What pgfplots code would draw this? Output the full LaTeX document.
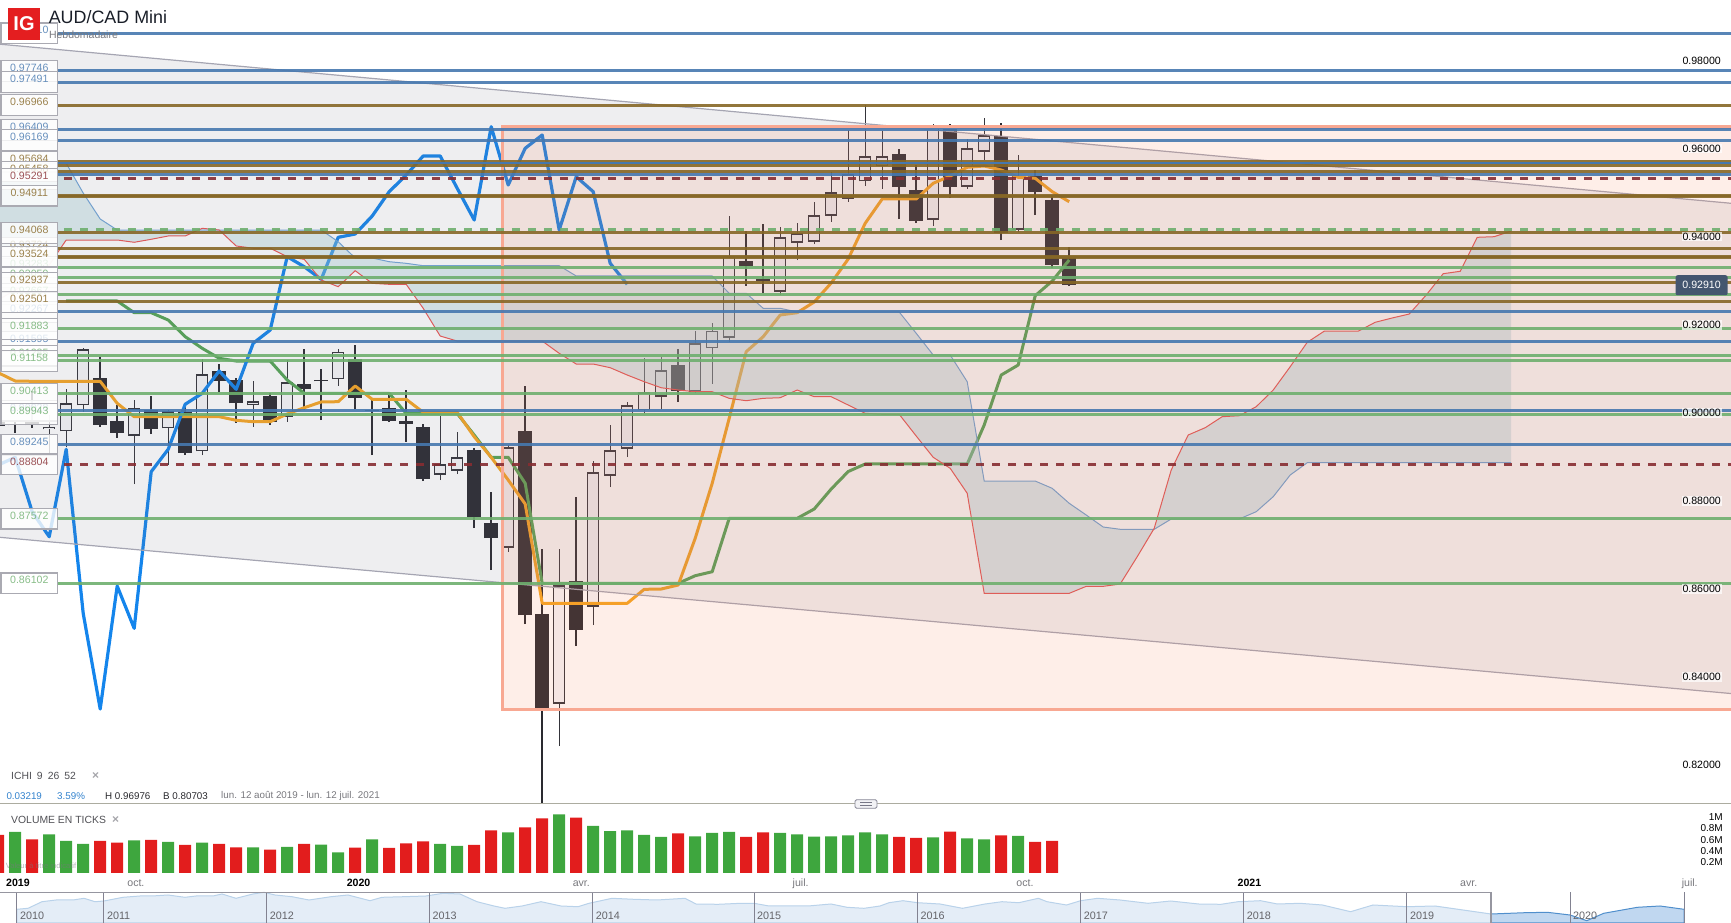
\documentclass[border=0pt]{standalone}
\usepackage{fontspec}
\setmainfont{Liberation Sans}
\usepackage{pgfplots}
\usepackage{pgfplotstable}
\pgfplotsset{compat=1.18}

\definecolor{igred}{RGB}{228,30,32}
\definecolor{hblue}{RGB}{70,120,175}
\definecolor{hbrown}{RGB}{134,103,38}
\definecolor{hgreen}{RGB}{110,175,110}
\definecolor{hred}{RGB}{135,45,50}
\definecolor{candark}{RGB}{42,42,48}
\definecolor{canlight}{RGB}{246,246,248}
\definecolor{canedge}{RGB}{52,52,58}
\definecolor{cloudc}{RGB}{158,196,204}
\definecolor{chanfill}{RGB}{115,115,135}
\definecolor{chanedge}{RGB}{165,165,178}
\definecolor{boxfill}{RGB}{245,120,80}
\definecolor{boxedge}{RGB}{248,168,146}
\definecolor{tenkan}{RGB}{246,166,35}
\definecolor{kijun}{RGB}{85,165,85}
\definecolor{chikou}{RGB}{20,133,236}
\definecolor{senkb}{RGB}{115,160,205}
\definecolor{senka}{RGB}{220,90,90}
\definecolor{volg}{RGB}{62,166,62}
\definecolor{volr}{RGB}{226,29,29}
\definecolor{lbltxtgray}{RGB}{120,120,125}

% i, wick high, wick low, body top, body bottom
\pgfplotstableread{
i hi lo top bot
2 .89926 .89063 .89660 .89601
3 .90510 .89206 .90192 .89556
4 .91442 .90001 .91420 .90147
7 .90267 .88358 .90078 .89456
9 .90040 .88790 .90010 .89624
11 .91199 .89017 .90851 .89101
14 .90699 .89660 .90237 .90147
16 .91176 .89774 .90669 .89887
19 .91420 .90592 .91365 .90744
25 .89904 .88449 .88806 .88570
26 .89533 .88585 .88965 .88661
29 .89237 .86820 .89192 .86910
32 .86881 .82404 .86056 .83365
34 .88881 .85154 .88624 .85570
35 .89699 .88290 .89124 .88547
36 .90222 .88972 .90147 .89161
37 .91215 .89965 .90442 .90029
38 .91238 .90056 .90942 .90342
40 .91842 .90433 .91555 .90456
41 .92010 .90631 .91842 .91442
42 .94448 .91592 .93546 .91683
45 .94191 .92660 .93964 .92728
46 .94283 .93448 .94055 .93842
47 .94760 .93812 .94464 .93865
48 .95441 .94319 .94987 .94455
49 .96393 .94773 .95396 .94842
50 .96976 .95130 .95805 .95236
51 .96387 .95062 .95805 .95579
54 .96539 .94221 .96478 .94365
56 .96191 .95062 .95987 .95114
57 .96675 .95721 .96282 .95910
59 .95835 .94085 .95351 .94137
}\upcandles
\pgfplotstableread{
i hi lo top bot
-1 .89858 .89631 .89797 .89676
0 .89790 .89517 .89722 .89692
1 .90471 .89631 .89774 .89699
5 .91251 .89660 .90767 .89706
6 .90153 .89410 .89790 .89524
8 .90358 .89494 .90040 .89615
10 .90192 .89017 .89994 .89063
12 .91086 .90456 .90927 .90706
13 .90760 .89751 .90715 .90192
15 .90419 .89706 .90358 .89760
17 .91426 .90040 .90631 .90524
18 .90971 .89812 .90715 .90692
20 .91517 .90056 .91192 .90319
21 .90267 .89017 .90051 .90029
22 .90381 .89767 .90078 .89790
23 .90494 .89319 .89783 .89729
24 .89722 .88426 .89653 .88471
27 .89176 .87358 .89131 .87608
28 .88176 .86404 .87472 .87131
30 .90585 .85177 .89563 .85381
31 .86881 .80703 .85404 .83222
33 .88070 .84676 .86147 .85040
39 .91426 .90222 .91063 .90479
43 .94107 .92865 .93431 .93317
44 .94267 .92706 .93023 .92971
52 .95964 .94380 .95857 .95107
53 .95607 .94289 .95039 .94335
55 .96539 .94857 .96464 .95107
58 .96555 .93903 .96266 .94069
60 .95494 .94471 .95357 .94987
61 .94926 .93267 .94812 .93335
62 .93744 .92857 .93494 .92880
}\downcandles

\pgfplotsset{hl/.style={line width=3pt,opacity=.9,forget plot}}
\tikzset{
  lblbox/.style={draw={rgb,255:red,170;green,170;blue,178},line width=1.1pt,fill=white,fill opacity=.8,draw opacity=1,
    minimum width=56.7pt,minimum height=20.7pt,inner sep=0pt},
  lbltxt/.style={inner sep=0pt,text opacity=.82,font=\fontsize{10.6}{12}\selectfont,yshift=3pt},
}
\newcommand{\lab}[3]{\node[lblbox] at (axis cs:0.83,#2){};\node[lbltxt,text=#1] at (axis cs:0.83,#2){#3};}

\begin{document}
\begin{tikzpicture}

%% ---------- price panel
\begin{axis}[
  at={(0pt,119pt)},anchor=south west,scale only axis,width=1731pt,height=804pt,
  xmin=-0.8941,xmax=100.9294,ymin=0.81087,ymax=0.99357,
  axis on top,
  axis line style={draw=none},tick style={draw=none},
  xtick=\empty,ytick={0.82,0.84,0.86,0.88,0.90,0.92,0.94,0.96,0.98},
  yticklabel pos=right,
  y tick label style={anchor=east,xshift=-9pt,yshift=-1pt,inner sep=1pt,fill=white,fill opacity=.7,text opacity=1,
    font=\fontsize{10.6}{12}\selectfont,
    /pgf/number format/.cd,fixed,fixed zerofill,precision=5,assume math mode=true},
  clip=true]

% candle wicks and bodies
\addplot[draw=none,no markers,forget plot,error bars/.cd,y dir=plus,y explicit,error mark=none,
  error bar style={line width=1.3pt,draw=canedge}]
  table[x=i,y=lo,y error plus expr=\thisrow{hi}-\thisrow{lo}] {\upcandles};
\addplot[draw=none,no markers,forget plot,error bars/.cd,y dir=plus,y explicit,error mark=none,
  error bar style={line width=12.4pt,draw=canedge}]
  table[x=i,y=bot,y error plus expr=\thisrow{top}-\thisrow{bot}] {\upcandles};
\addplot[draw=none,no markers,forget plot,error bars/.cd,y dir=plus,y explicit,error mark=none,
  error bar style={line width=9.8pt,draw=canlight}]
  table[x=i,y expr=\thisrow{bot}+0.0003,y error plus expr=\thisrow{top}-\thisrow{bot}-0.0006] {\upcandles};
\addplot[draw=none,no markers,forget plot,error bars/.cd,y dir=plus,y explicit,error mark=none,
  error bar style={line width=2.4pt,draw=candark}]
  table[x=i,y=lo,y error plus expr=\thisrow{hi}-\thisrow{lo}] {\downcandles};
\addplot[draw=none,no markers,forget plot,error bars/.cd,y dir=plus,y explicit,error mark=none,
  error bar style={line width=14pt,draw=candark}]
  table[x=i,y=bot,y error plus expr=\thisrow{top}-\thisrow{bot}] {\downcandles};

% kijun
\addplot[kijun,line width=3pt,line join=round,forget plot] coordinates {
(3,.92517)(6,.92517)(7,.92251)(8,.92251)(9,.92085)(10,.91706)(11,.91442)(12,.91215)(13,.91153)(15,.91153)(16,.90721)(17,.90419)(22,.90419)(23,.89960)(26,.89960)(27,.89472)(28,.88965)(29,.88965)(30,.88374)(31,.86101)(39,.86101)(40,.86274)(41,.86365)(42,.87578)(46,.87578)(47,.87790)(48,.88244)(49,.88642)(50,.88813)(56,.88813)(57,.89699)(58,.90835)(59,.91062)(60,.92637)(61,.92971)(62,.93449)};
% tenkan
\addplot[tenkan,line width=3pt,line join=round,forget plot] coordinates {
(-1,.90887)(0,.90699)(1,.90692)(5,.90692)(6,.90192)(7,.89888)(12,.89888)(13,.89806)(14,.89774)(15,.89774)(16,.89949)(17,.90092)(18,.90222)(19,.90229)(20,.90585)(21,.90283)(23,.90283)(24,.89988)(26,.89988)(27,.89433)(28,.88965)(29,.88449)(30,.87904)(31,.85647)(36,.85647)(37,.85965)(38,.85972)(39,.86063)(40,.87124)(41,.88374)(42,.89851)(43,.91365)(44,.91706)(45,.92199)(46,.92251)(47,.92494)(48,.92926)(49,.93471)(50,.94283)(51,.94835)(53,.94835)(54,.95192)(55,.95357)(56,.95555)(57,.95585)(58,.95494)(59,.95328)(60,.95305)(61,.95001)(62,.94773)};
% chikou
\addplot[chikou,line width=3.2pt,line join=round,forget plot] coordinates {
(-1,.88790)(0,.88965)(1,.87728)(2,.87160)(3,.89147)(4,.85420)(5,.83245)(6,.86040)(7,.85079)(8,.88638)(9,.89147)(10,.90171)(11,.90419)(12,.90927)(13,.90510)(14,.91556)(15,.91857)(16,.93524)(17,.93296)(18,.93010)(19,.93964)(20,.94039)(21,.94448)(22,.95001)(23,.95380)(24,.95812)(25,.95812)(26,.95078)(27,.94358)(28,.96478)(29,.95153)(30,.95987)(31,.96289)(32,.94130)(33,.95341)(34,.95001)(35,.93373)(36,.92896)};

% channel
\addplot[fill=chanfill,fill opacity=.12,draw=chanedge,line width=1.2pt,forget plot] coordinates {
(-1.5,.98374)(101.5,.94717)(101.5,.83577)(-1.5,.87168)} --cycle;

% ichimoku cloud: the area between the two lines, then the lines
\addplot[fill=cloudc,fill opacity=.37,draw=none,forget plot] coordinates {
(-1,.92540)(0,.92767)(1,.92994)(2,.93335)(3,.93903)(6,.93903)(7,.93851)(8,.93919)(9,.93994)(10,.93994)(11,.94169)(12,.94130)(13,.93767)(14,.93715)(15,.93715)(16,.93524)(17,.93464)(18,.92994)(19,.92842)(20,.93205)(21,.92919)(22,.92896)(23,.92896)(24,.92351)(25,.91721)(26,.91607)(31,.91607)(32,.91328)(33,.91085)(34,.91085)(35,.91001)(36,.90835)(37,.90683)(38,.90546)(39,.90494)(40,.90456)(41,.90456)(42,.90305)(43,.90251)(44,.90305)(45,.90319)(46,.90494)(47,.90342)(48,.90342)(49,.90153)(50,.89965)(51,.89942)(52,.89942)(53,.89449)(54,.88965)(55,.88715)(56,.88147)(57,.85874)(62,.85874)(63,.86033)(64,.86033)(65,.86086)(66,.86706)(67,.87351)(68,.88676)(69,.89472)(70,.89638)(71,.89888)(72,.89910)(73,.90115)(74,.90494)(75,.91024)(76,.91578)(77,.91831)(79,.91831)(80,.92033)(81,.92131)(82,.92221)(83,.92653)(84,.93137)(85,.93192)(86,.93964)(87,.93978)(88,.94107)
(88,.88842)(76,.88842)(75,.88563)(74,.88070)(73,.87729)(72,.87563)(68,.87563)(67,.87329)(65,.87329)(64,.87381)(63,.87654)(62,.87920)(61,.88260)(60,.88426)(57,.88426)(56,.90683)(55,.91290)(54,.91290)(53,.91783)(52,.92267)(46,.92267)(45,.92351)(44,.92351)(43,.92692)(42,.92692)(41,.93085)(33,.93085)(32,.93319)(24,.93319)(23,.93373)(22,.93410)(21,.93494)(20,.93494)(19,.93864)(18,.94130)(6,.94130)(5,.94380)(4,.94971)(3,.95646)(-1,.95646)} --cycle;
\addplot[senkb,line width=1pt,forget plot] coordinates {
(-1,.95646)(3,.95646)(4,.94971)(5,.94380)(6,.94130)(18,.94130)(19,.93864)(20,.93494)(21,.93494)(22,.93410)(23,.93373)(24,.93319)(32,.93319)(33,.93085)(41,.93085)(42,.92692)(43,.92692)(44,.92351)(45,.92351)(46,.92267)(52,.92267)(53,.91783)(54,.91290)(55,.91290)(56,.90683)(57,.88426)(60,.88426)(61,.88260)(62,.87920)(63,.87654)(64,.87381)(65,.87329)(67,.87329)(68,.87563)(72,.87563)(73,.87729)(74,.88070)(75,.88563)(76,.88842)(88,.88842)};
\addplot[senka,line width=1pt,forget plot] coordinates {
(-1,.92540)(0,.92767)(1,.92994)(2,.93335)(3,.93903)(6,.93903)(7,.93851)(8,.93919)(9,.93994)(10,.93994)(11,.94169)(12,.94130)(13,.93767)(14,.93715)(15,.93715)(16,.93524)(17,.93464)(18,.92994)(19,.92842)(20,.93205)(21,.92919)(22,.92896)(23,.92896)(24,.92351)(25,.91721)(26,.91607)(31,.91607)(32,.91328)(33,.91085)(34,.91085)(35,.91001)(36,.90835)(37,.90683)(38,.90546)(39,.90494)(40,.90456)(41,.90456)(42,.90305)(43,.90251)(44,.90305)(45,.90319)(46,.90494)(47,.90342)(48,.90342)(49,.90153)(50,.89965)(51,.89942)(52,.89942)(53,.89449)(54,.88965)(55,.88715)(56,.88147)(57,.85874)(62,.85874)(63,.86033)(64,.86033)(65,.86086)(66,.86706)(67,.87351)(68,.88676)(69,.89472)(70,.89638)(71,.89888)(72,.89910)(73,.90115)(74,.90494)(75,.91024)(76,.91578)(77,.91831)(79,.91831)(80,.92033)(81,.92131)(82,.92221)(83,.92653)(84,.93137)(85,.93192)(86,.93964)(87,.93978)(88,.94107)};

% salmon box
\addplot[fill=boxfill,fill opacity=.13,draw=boxedge,line width=3.5pt,forget plot] coordinates {
(28.66,.96471)(104,.96471)(104,.83238)(28.66,.83238)} --cycle;

% horizontal levels
\addplot[hl,hblue] coordinates {(2.459,.98600)(102,.98600)};
\addplot[hl,hblue] coordinates {(2.459,.97746)(102,.97746)};
\addplot[hl,hblue] coordinates {(2.459,.97491)(102,.97491)};
\addplot[hl,hbrown] coordinates {(2.459,.96966)(102,.96966)};
\addplot[hl,hblue] coordinates {(2.459,.96409)(102,.96409)};
\addplot[hl,hblue] coordinates {(2.459,.96169)(102,.96169)};
\addplot[hl,hbrown] coordinates {(2.459,.95684)(102,.95684)};
\addplot[hl,hbrown] coordinates {(2.459,.95601)(102,.95601)};
\addplot[hblue,line width=1.2pt,forget plot] coordinates {(2.459,.95653)(102,.95653)};
\addplot[hl,hbrown] coordinates {(2.459,.95458)(102,.95458)};
\addplot[hl,hblue] coordinates {(2.459,.95399)(102,.95399)};
\addplot[hl,hbrown] coordinates {(2.459,.94925)(102,.94925)};
\addplot[hl,hbrown] coordinates {(2.459,.94895)(102,.94895)};
\addplot[hl,hbrown] coordinates {(2.459,.94068)(102,.94068)};
\addplot[hl,hbrown] coordinates {(2.459,.93715)(102,.93715)};
\addplot[hl,hbrown] coordinates {(2.459,.93535)(102,.93535)};
\addplot[hl,hbrown] coordinates {(2.459,.93515)(102,.93515)};
\addplot[hl,hgreen] coordinates {(2.459,.93283)(102,.93283)};
\addplot[hl,hgreen] coordinates {(2.459,.93056)(102,.93056)};
\addplot[hl,hbrown] coordinates {(2.459,.92937)(102,.92937)};
\addplot[hl,hgreen] coordinates {(2.459,.92670)(102,.92670)};
\addplot[hl,hbrown] coordinates {(2.459,.92501)(102,.92501)};
\addplot[hl,hblue] coordinates {(2.459,.92267)(102,.92267)};
\addplot[hl,hgreen] coordinates {(2.459,.91883)(102,.91883)};
\addplot[hl,hblue] coordinates {(2.459,.91595)(102,.91595)};
\addplot[hl,hgreen] coordinates {(2.459,.91274)(102,.91274)};
\addplot[hl,hgreen] coordinates {(2.459,.91158)(102,.91158)};
\addplot[hl,hgreen] coordinates {(2.459,.90413)(102,.90413)};
\addplot[hl,hblue] coordinates {(2.459,.90025)(102,.90025)};
\addplot[hl,hgreen] coordinates {(2.459,.89943)(102,.89943)};
\addplot[hl,hblue] coordinates {(2.459,.89245)(102,.89245)};
\addplot[hl,hgreen] coordinates {(2.459,.87572)(102,.87572)};
\addplot[hl,hgreen] coordinates {(2.459,.86102)(102,.86102)};
\addplot[hl,hred,dash pattern=on 8pt off 8pt] coordinates {(2.87,.95291)(102,.95291)};
\addplot[hl,hred,dash pattern=on 8pt off 8pt] coordinates {(2.87,.88804)(102,.88804)};
\addplot[hl,hgreen,dash pattern=on 8pt off 8pt] coordinates {(2.87,.94131)(102,.94131)};

% level labels: the ones that lie behind others first
\lab{hblue}{.98600}{0.98610}
\lab{hbrown}{.95684}{0.95684}
\lab{hbrown}{.95458}{0.95458}
\lab{hbrown}{.93715}{0.93724}
\lab{hgreen}{.93283}{0.93283}
\lab{hgreen}{.93056}{0.93059}
\lab{hgreen}{.92670}{0.92667}
\lab{hblue}{.92267}{0.92267}
\lab{hblue}{.91595}{0.91595}
\lab{hgreen}{.91274}{0.91285}
\lab{hblue}{.90025}{0.90028}
\lab{hblue}{.97746}{0.97746}
\lab{hblue}{.97491}{0.97491}
\lab{hbrown}{.96966}{0.96966}
\lab{hblue}{.96409}{0.96409}
\lab{hblue}{.96169}{0.96169}
\lab{hred}{.95291}{0.95291}
\lab{hbrown}{.94911}{0.94911}
\lab{hbrown}{.94068}{0.94068}
\lab{hbrown}{.93524}{0.93524}
\lab{hbrown}{.92937}{0.92937}
\lab{hbrown}{.92501}{0.92501}
\lab{hgreen}{.91883}{0.91883}
\lab{hgreen}{.91158}{0.91158}
\lab{hgreen}{.90413}{0.90413}
\lab{hgreen}{.89943}{0.89943}
\lab{hblue}{.89245}{0.89245}
\lab{hred}{.88804}{0.88804}
\lab{hgreen}{.87572}{0.87572}
\lab{hgreen}{.86102}{0.86102}

\node[fill={rgb,255:red,68;green,86;blue,111},text=white,rounded corners=2pt,minimum width=52pt,minimum height=20pt,inner sep=0pt,
  font=\fontsize{10.6}{12}\selectfont] at (axis cs:99.2,.92875) {0.92910};
\end{axis}

%% ---------- volume panel
\begin{axis}[
  at={(0pt,50pt)},anchor=south west,scale only axis,width=1731pt,height=69pt,
  xmin=-0.8941,xmax=100.9294,ymin=0,ymax=1.2388,
  axis line style={draw=none},tick style={draw=none},
  xtick={0.16,7.1,20.2,33.3,46.2,59.4,72.6,85.5,98.5},
  xticklabels={\textbf{2019},\textcolor{lbltxtgray}{oct.},\textbf{2020},\textcolor{lbltxtgray}{avr.},\textcolor{lbltxtgray}{juil.},\textcolor{lbltxtgray}{oct.},\textbf{2021},\textcolor{lbltxtgray}{avr.},\textcolor{lbltxtgray}{juil.}},
  x tick label style={inner sep=0pt,anchor=north,yshift=-5pt,text height=8pt,text depth=2pt,font=\fontsize{10.6}{12}\selectfont},
  ytick={0.2,0.4,0.6,0.8,1},yticklabels={0.2M,0.4M,0.6M,0.8M,1M},
  yticklabel pos=right,
  y tick label style={anchor=east,inner sep=0pt,xshift=-8pt,font=\fontsize{10}{12}\selectfont}]
\addplot[ybar,bar width=12pt,bar shift=0pt,fill=volg,draw=none,forget plot] coordinates {
(0,.737)(2,.695)(3,.575)(4,.521)(7,.587)(9,.557)(11,.545)(14,.461)(16,.467)(18,.509)(19,.371)(21,.605)(25,.521)(26,.485)(29,.731)(32,1.054)(34,.844)(35,.754)(36,.766)(37,.683)(38,.647)(40,.659)(41,.719)(42,.737)(45,.719)(46,.695)(47,.653)(48,.659)(49,.677)(50,.731)(51,.695)(54,.641)(56,.623)(57,.605)(59,.665)};
\addplot[ybar,bar width=12pt,bar shift=0pt,fill=volr,draw=none,forget plot] coordinates {
(-1,.683)(1,.605)(5,.575)(6,.545)(8,.593)(10,.503)(12,.521)(13,.461)(15,.419)(17,.521)(20,.455)(22,.449)(23,.533)(24,.569)(27,.503)(28,.766)(30,.820)(31,.982)(33,.994)(39,.713)(43,.647)(44,.731)(52,.647)(53,.629)(55,.743)(58,.677)(60,.557)(61,.575)};
\end{axis}

%% ---------- navigator
\begin{axis}[
  at={(0pt,0pt)},anchor=south west,scale only axis,width=1731pt,height=31pt,
  xmin=0,xmax=1731,ymin=0,ymax=31,
  axis on top,
  axis line style={draw=none},tick style={draw=none},ytick=\empty,
  xtick={16.8,103.8,266.6,429.3,592.6,754,917.5,1080.6,1243.7,1406.8,1570},
  xticklabels={2010,2011,2012,2013,2014,2015,2016,2017,2018,2019,2020},
  x tick label style={anchor=south west,inner sep=0pt,xshift=3pt,yshift=3.5pt,
    text={rgb,255:red,100;green,100;blue,105},font=\fontsize{10.8}{12}\selectfont},
  clip=true]
\addplot[fill={rgb,255:red,228;green,237;blue,247},draw={rgb,255:red,185;green,210;blue,234},line width=1pt,forget plot] coordinates {
(16.8,13.7)(28,14.7)(42,21.3)(56,23)(73,23)(84,24.7)(95,21.3)(104,22)(123,25.7)(140,27)(152,27)(168,28)(185,25.7)(196,27)(213,27)(222,29)(236,24.7)(253,29)(264,30.7)(275,28)(292,26.3)(309,23)(331,26.3)(348,28)(370,22.3)(382,25.7)(404,26.3)(426,27)(443,29.7)(460,29)(477,21.3)(494,17)(505,14.7)(522,17)(541,21.3)(561,17)(578,16.3)(589,19.7)(612,24.7)(634,23.7)(657,23)(685,24.7)(696,19)(718,18.7)(741,19.7)(754,19.7)(769,17)(786,17)(808,17)(831,19)(847,15.7)(864,14.7)(880,17)(889,20.3)(903,22.3)(917.5,20.3)(940,19)(962.5,14.7)(985,19)(1002,21.3)(1018.7,20.3)(1038.4,24.7)(1047,21.3)(1066.5,18)(1080.6,22.3)(1097.5,24.7)(1120,23)(1148,19.7)(1170.6,22)(1198.7,19)(1221,18.7)(1238,21.3)(1260.6,22.3)(1277.4,19)(1300,19.7)(1322.4,18)(1350.6,11.3)(1373,18)(1406.8,16.3)(1435,17)(1463,13)(1491,9)} \closedcycle;
\addplot[fill={rgb,255:red,192;green,215;blue,240},draw={rgb,255:red,80;green,143;blue,204},line width=1pt,forget plot] coordinates {
(1491,9)(1525,10.3)(1547.4,10.7)(1570,8)(1586.8,2.3)(1603.7,9.7)(1637.4,15.7)(1660,17)(1684,13.7)} \closedcycle;
\addplot[draw={rgb,255:red,130;green,130;blue,145},line width=.8pt,forget plot] coordinates {(16.8,0)(16.8,31)};
\addplot[draw={rgb,255:red,130;green,130;blue,145},line width=.8pt,forget plot] coordinates {(103.8,0)(103.8,31)};
\addplot[draw={rgb,255:red,130;green,130;blue,145},line width=.8pt,forget plot] coordinates {(266.6,0)(266.6,31)};
\addplot[draw={rgb,255:red,130;green,130;blue,145},line width=.8pt,forget plot] coordinates {(429.3,0)(429.3,31)};
\addplot[draw={rgb,255:red,130;green,130;blue,145},line width=.8pt,forget plot] coordinates {(592.6,0)(592.6,31)};
\addplot[draw={rgb,255:red,130;green,130;blue,145},line width=.8pt,forget plot] coordinates {(754,0)(754,31)};
\addplot[draw={rgb,255:red,130;green,130;blue,145},line width=.8pt,forget plot] coordinates {(917.5,0)(917.5,31)};
\addplot[draw={rgb,255:red,130;green,130;blue,145},line width=.8pt,forget plot] coordinates {(1080.6,0)(1080.6,31)};
\addplot[draw={rgb,255:red,130;green,130;blue,145},line width=.8pt,forget plot] coordinates {(1243.7,0)(1243.7,31)};
\addplot[draw={rgb,255:red,130;green,130;blue,145},line width=.8pt,forget plot] coordinates {(1406.8,0)(1406.8,31)};
\addplot[draw={rgb,255:red,130;green,130;blue,145},line width=.6pt,forget plot] coordinates {(1570,0)(1570,31)};
\addplot[draw={rgb,255:red,130;green,130;blue,145},line width=.6pt,forget plot] coordinates {(1684,0)(1684,31)};
\addplot[draw={rgb,255:red,150;green,150;blue,160},line width=1.4pt,forget plot] coordinates {(0,30.6)(1491,30.6)(1491,0)};
\end{axis}

%% ---------- frame texts
\draw[draw={rgb,255:red,172;green,172;blue,160},line width=1pt] (0,119pt) -- (1731pt,119pt);
\node[draw={rgb,255:red,135;green,135;blue,150},fill={rgb,255:red,242;green,242;blue,245},line width=.8pt,rounded corners=1.5pt,
  minimum width=22pt,minimum height=8.6pt,inner sep=0pt] at (866pt,119pt) {};
\draw[draw={rgb,255:red,120;green,120;blue,135},line width=.7pt] (860pt,120.2pt) -- (872pt,120.2pt) (860pt,117.8pt) -- (872pt,117.8pt);

\fill[igred] (8pt,883pt) rectangle (40pt,915pt);
\node[text=white,inner sep=0pt,font=\fontsize{20}{20}\selectfont\bfseries] at (24pt,899pt) {IG};
\node[anchor=west,inner sep=0pt,font=\fontsize{17.9}{20}\selectfont,text={rgb,255:red,25;green,30;blue,40}] at (48.6pt,906.3pt) {AUD/CAD Mini};
\node[anchor=west,inner sep=0pt,font=\fontsize{10.5}{12}\selectfont,text=lbltxtgray] at (48.8pt,888.7pt) {Hebdomadaire};

\node[anchor=west,inner sep=0pt,font=\fontsize{10.4}{12}\selectfont,text={rgb,255:red,80;green,80;blue,85}] at (11pt,147pt) {ICHI\hspace{5pt}9\hspace{5pt}26\hspace{5pt}52};
\node[anchor=west,inner sep=0pt,font=\fontsize{12}{12}\selectfont\bfseries,text={rgb,255:red,165;green,165;blue,170}] at (92pt,147pt) {×};
\node[anchor=west,inner sep=0pt,font=\fontsize{9.8}{12}\selectfont,text={rgb,255:red,50;green,130;blue,205}] at (6.3pt,127.3pt) {0.03219};
\node[anchor=west,inner sep=0pt,font=\fontsize{9.8}{12}\selectfont,text={rgb,255:red,50;green,130;blue,205}] at (57pt,127.3pt) {3.59\%};
\node[anchor=west,inner sep=0pt,font=\fontsize{9.8}{12}\selectfont,text={rgb,255:red,40;green,40;blue,45}] at (105pt,127.3pt) {H 0.96976};
\node[anchor=west,inner sep=0pt,font=\fontsize{9.8}{12}\selectfont,text={rgb,255:red,40;green,40;blue,45}] at (163pt,127.3pt) {B 0.80703};
\node[anchor=west,inner sep=0pt,font=\fontsize{9.8}{12}\selectfont,text=lbltxtgray] at (221pt,127.3pt) {lun. 12 août 2019 - lun. 12 juil. 2021};
\node[anchor=west,inner sep=0pt,font=\fontsize{10.4}{12}\selectfont,text={rgb,255:red,80;green,80;blue,85}] at (11pt,103pt) {VOLUME EN TICKS};
\node[anchor=west,inner sep=0pt,font=\fontsize{12}{12}\selectfont\bfseries,text={rgb,255:red,165;green,165;blue,170}] at (112pt,103pt) {×};
\node[anchor=west,inner sep=0pt,font=\fontsize{7.6}{9}\selectfont,text=lbltxtgray,text opacity=.55] at (5.6pt,57pt) {Valeur à titre indicatif};

\pgfresetboundingbox
\path[use as bounding box] (0,0) rectangle (1731pt,923pt);
\end{tikzpicture}
\end{document}
